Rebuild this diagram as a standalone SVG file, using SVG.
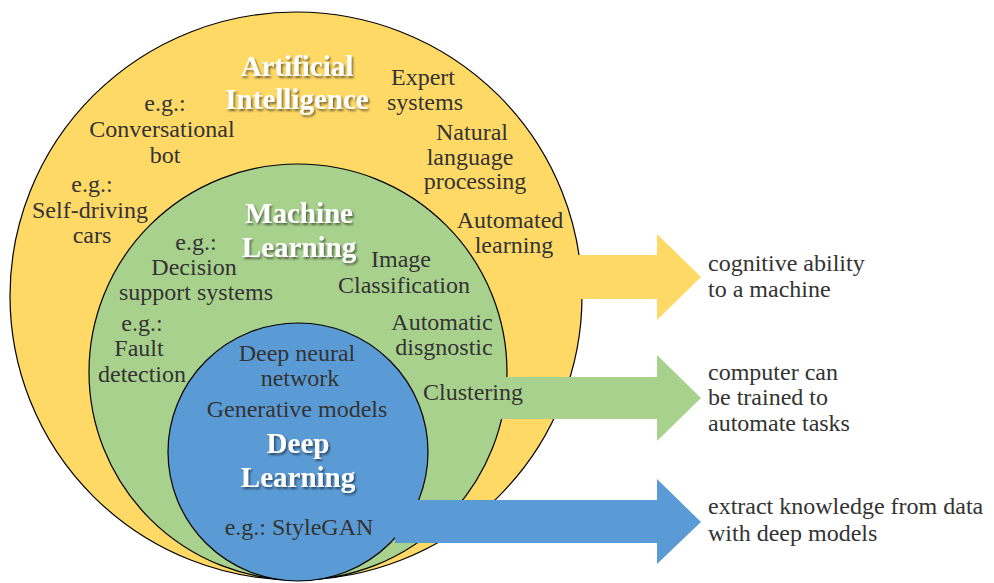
<svg xmlns="http://www.w3.org/2000/svg" width="994" height="583" viewBox="0 0 994 583">
<defs>
<filter id="sh" x="-10%" y="-20%" width="130%" height="150%">
<feDropShadow dx="1.5" dy="2" stdDeviation="1" flood-color="#000" flood-opacity="0.55"/>
</filter>
<style>
.t{font-family:"Liberation Serif","Times New Roman",serif;font-size:24px;fill:#333;text-anchor:middle}
.r{font-family:"Liberation Serif","Times New Roman",serif;font-size:24px;fill:#333}
.h{font-family:"Liberation Serif","Times New Roman",serif;font-size:29px;font-weight:bold;fill:#fff;text-anchor:middle;filter:url(#sh)}
.e{stroke:#000;stroke-width:1.2}
</style>
</defs>
<rect width="994" height="583" fill="#fff"/>
<g id="ai"><ellipse class="e" cx="296" cy="296" rx="286" ry="284" fill="#FFD966"/></g>
<g id="ml"><ellipse class="e" cx="298" cy="372" rx="209" ry="208" fill="#A9D18E"/></g>
<g id="dl"><ellipse class="e" cx="298" cy="452" rx="130" ry="129" fill="#5B9BD5"/></g>
<g id="connectors">
<polygon points="555,255 657,255 657,234 701,277 657,320 657,299 555,299" fill="#FFD966"/>
<polygon points="470,377 657,377 657,355 701,398 657,441 657,419 470,419" fill="#A9D18E"/>
<polygon points="395,500 657,500 657,479 701,522 657,564 657,543 395,543" fill="#5B9BD5"/>
</g>
<g id="ai-labels">
<text class="h" x="297" y="76">Artificial</text>
<text class="h" x="297" y="109">Intelligence</text>
<text class="t" x="423" y="85">Expert</text>
<text class="t" x="425" y="110">systems</text>
<text class="t" x="165" y="111">e.g.:</text>
<text class="t" x="162" y="137">Conversational</text>
<text class="t" x="165" y="163">bot</text>
<text class="t" x="472" y="140">Natural</text>
<text class="t" x="470" y="165">language</text>
<text class="t" x="475" y="189">processing</text>
<text class="t" x="92" y="192">e.g.:</text>
<text class="t" x="90" y="218">Self-driving</text>
<text class="t" x="92" y="243">cars</text>
<text class="t" x="510" y="228">Automated</text>
<text class="t" x="514" y="253">learning</text>
</g>
<g id="ml-labels">
<text class="h" x="299" y="223">Machine</text>
<text class="h" x="299" y="257">Learning</text>
<text class="t" x="196" y="250">e.g.:</text>
<text class="t" x="194" y="275">Decision</text>
<text class="t" x="196" y="300">support systems</text>
<text class="t" x="401" y="267">Image</text>
<text class="t" x="404" y="293">Classification</text>
<text class="t" x="142" y="331">e.g.:</text>
<text class="t" x="139" y="356">Fault</text>
<text class="t" x="142" y="382">detection</text>
<text class="t" x="442" y="330">Automatic</text>
<text class="t" x="444" y="355">disgnostic</text>
<text class="t" x="473" y="400">Clustering</text>
</g>
<g id="dl-labels">
<text class="t" x="297" y="361">Deep neural</text>
<text class="t" x="300" y="386">network</text>
<text class="t" x="297" y="417">Generative models</text>
<text class="h" x="298" y="453">Deep</text>
<text class="h" x="298" y="487">Learning</text>
<text class="t" x="299" y="535">e.g.: StyleGAN</text>
</g>
<g id="descriptions">
<text class="r" x="708" y="271">cognitive ability</text>
<text class="r" x="708" y="297">to a machine</text>
<text class="r" x="708" y="380">computer can</text>
<text class="r" x="708" y="405">be trained to</text>
<text class="r" x="708" y="431">automate tasks</text>
<text class="r" x="708" y="514">extract knowledge from data</text>
<text class="r" x="708" y="541">with deep models</text>
</g>
</svg>
